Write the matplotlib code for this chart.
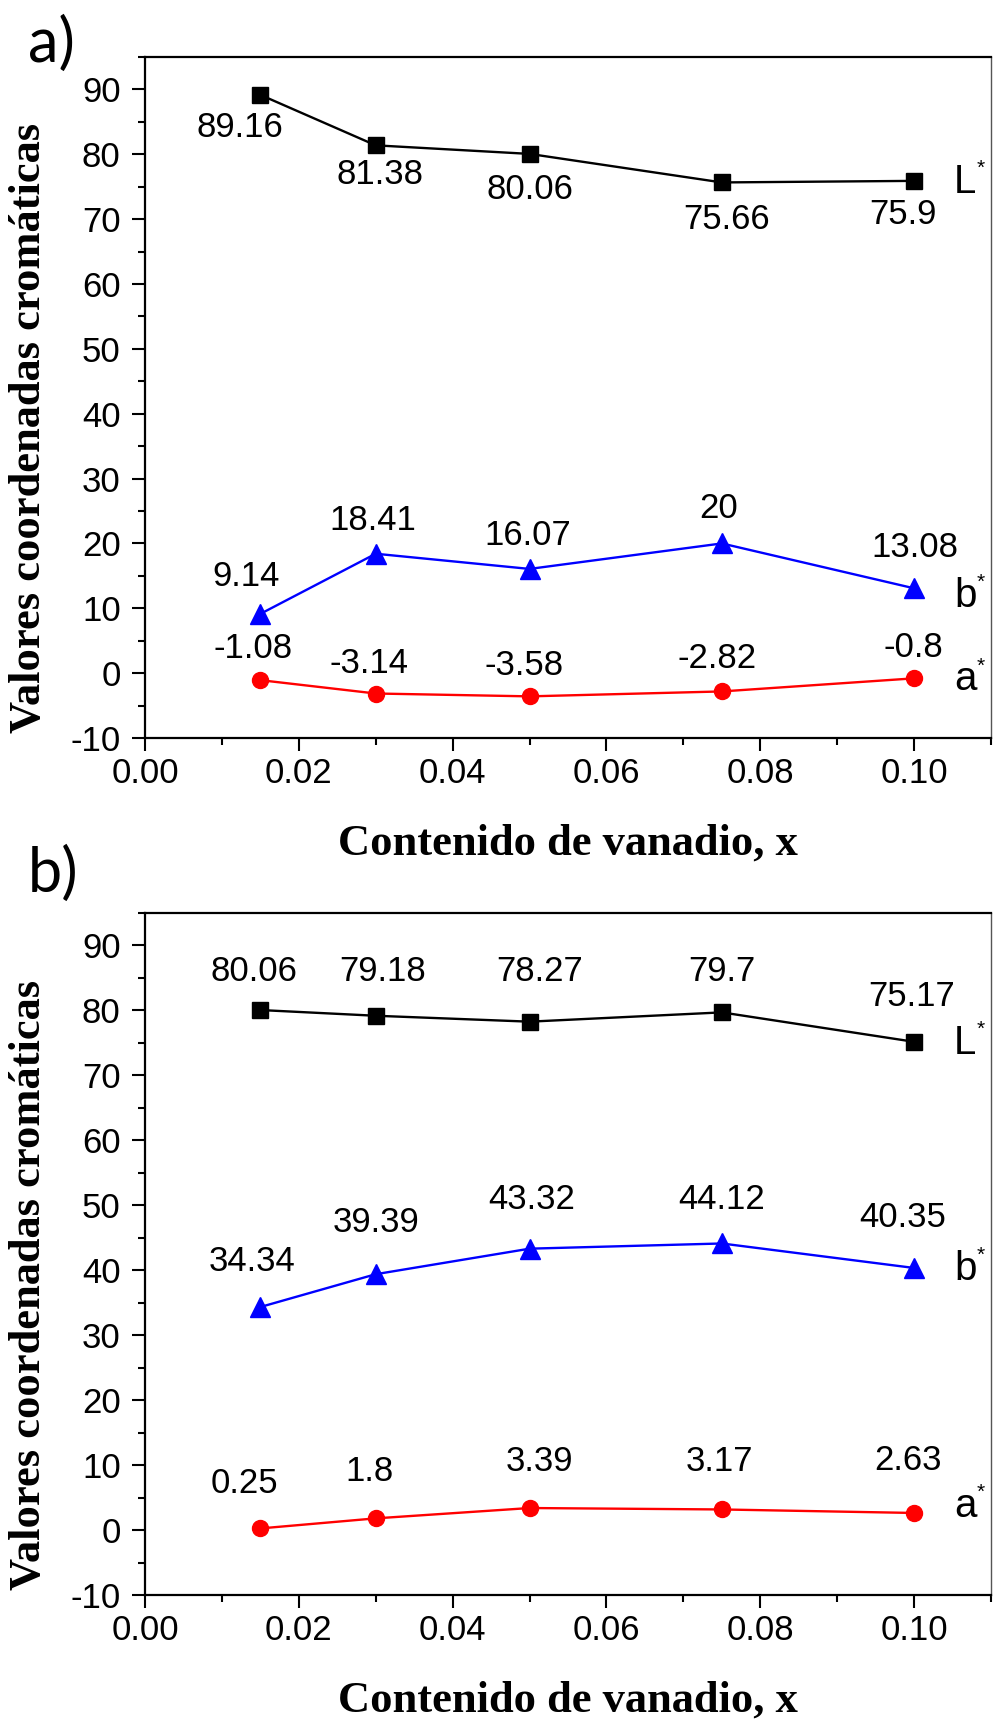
import matplotlib
matplotlib.use("Agg")
import matplotlib.pyplot as plt
from matplotlib.ticker import MultipleLocator, FormatStrFormatter

# vanadium content (x) for the five samples
x_content = [0.015, 0.03, 0.05, 0.075, 0.10]

# panel a) chromatic coordinates
L_a = [89.16, 81.38, 80.06, 75.66, 75.9]
b_a = [9.14, 18.41, 16.07, 20, 13.08]
a_a = [-1.08, -3.14, -3.58, -2.82, -0.8]

# panel b) chromatic coordinates
L_b = [80.06, 79.18, 78.27, 79.7, 75.17]
b_b = [34.34, 39.39, 43.32, 44.12, 40.35]
a_b = [0.25, 1.8, 3.39, 3.17, 2.63]

x_ticks = [0.00, 0.02, 0.04, 0.06, 0.08, 0.10]
y_ticks = [-10, 0, 10, 20, 30, 40, 50, 60, 70, 80, 90]

# value-label offsets in pixels (dx, dy) relative to each marker
off_La = [(-20, -33), (4, -29), (0, -36), (5, -37), (-11, -34)]
off_ba = [(-14, 37), (-3, 33), (-2, 33), (-3, 35), (1, 41)]
off_aa = [(-7, 32), (-7, 30), (-5, 31), (-5, 33), (-1, 31)]
off_Lb = [(-6, 39), (7, 44), (10, 50), (0, 41), (-2, 45)]
off_bb = [(-8, 46), (0, 52), (2, 49), (0, 44), (-11, 50)]
off_ab = [(-16, 45), (-6, 47), (10, 47), (-2, 48), (-6, 52)]

plt.rcParams["font.family"] = ["Liberation Sans", "DejaVu Sans"]
plt.rcParams["axes.unicode_minus"] = False

W, H, DPI = 993, 1722, 100
fig = plt.figure(figsize=(W / DPI, H / DPI), dpi=DPI)

SANS = "Liberation Sans"
SERIF = "Liberation Serif"


def setup_axes(ax):
    ax.set_xlim(0.0, 0.11)
    ax.set_ylim(-10, 95)
    ax.set_xticks(x_ticks)
    ax.set_yticks(y_ticks)
    ax.xaxis.set_minor_locator(MultipleLocator(0.01))
    ax.yaxis.set_minor_locator(MultipleLocator(5))
    ax.xaxis.set_major_formatter(FormatStrFormatter("%.2f"))
    ax.tick_params(which="major", direction="out", length=9.5, width=1.5,
                   labelsize=25, top=False, right=False)
    ax.tick_params(axis="y", which="major", pad=8)
    ax.tick_params(axis="x", which="major", pad=4)
    ax.tick_params(which="minor", direction="out", length=5, width=1.5,
                   top=False, right=False)
    for lab in ax.get_xticklabels() + ax.get_yticklabels():
        lab.set_fontfamily(SANS)
    for side in ["left", "bottom", "top"]:
        ax.spines[side].set_linewidth(1.6)
    ax.spines["right"].set_linewidth(1.0)
    ax.spines["right"].set_color("#555555")
    ax.set_xlabel("Contenido de vanadio, x", fontfamily=SERIF,
                  fontweight="bold", fontsize=32)
    ax.set_ylabel("Valores coordenadas cromáticas", fontfamily=SERIF,
                  fontweight="bold", fontsize=32)
    ax.yaxis.label.set_va("center")
    ax.xaxis.set_label_coords(0.5, -0.125)
    ax.yaxis.set_label_coords(-0.137, 0.455)


def draw_series(ax, values, color, marker, ms, offsets, name, base_dy):
    ax.plot(x_content, values, color=color, lw=1.7, marker=marker,
            markersize=ms, markerfacecolor=color, markeredgecolor=color,
            clip_on=False, zorder=3)
    for xv, yv, (dx, dy) in zip(x_content, values, offsets):
        ax.annotate(f"{yv:g}", (xv, yv), xytext=(dx, dy),
                    textcoords="offset pixels", ha="center", va="center",
                    fontsize=25, fontfamily=SANS, color="black")
    # series name with superscript star at the right end
    ax.annotate(name, (x_content[-1], values[-1]), xytext=(40, -base_dy),
                textcoords="offset pixels", ha="left", va="baseline",
                fontsize=29, fontfamily=SANS, color="black",
                annotation_clip=False)
    ax.annotate("*", (x_content[-1], values[-1]), xytext=(63, -base_dy + 19),
                textcoords="offset pixels", ha="left", va="baseline",
                fontsize=15, fontfamily=SANS, color="black",
                annotation_clip=False)


ax1 = fig.add_axes([145 / W, 1 - 738 / H, 846 / W, 681 / H])
setup_axes(ax1)
draw_series(ax1, L_a, "black", "s", 11, off_La, "L", 12)
draw_series(ax1, b_a, "#0000ff", "^", 14, off_ba, "b", 19)
draw_series(ax1, a_a, "#ff0000", "o", 11.5, off_aa, "a", 12)

ax2 = fig.add_axes([145 / W, 1 - 1595 / H, 846 / W, 682 / H])
setup_axes(ax2)
draw_series(ax2, L_b, "black", "s", 11, off_Lb, "L", 12)
draw_series(ax2, b_b, "#0000ff", "^", 14, off_bb, "b", 12)
draw_series(ax2, a_b, "#ff0000", "o", 11.5, off_ab, "a", 4)

fig.text(28 / W, 1 - 62 / H, "a)", fontfamily="Lato", fontsize=44,
         va="baseline", ha="left")
fig.text(28 / W, 1 - 892 / H, "b)", fontfamily="Lato", fontsize=44,
         va="baseline", ha="left")

fig.savefig("out.png", dpi=DPI, facecolor="white")
